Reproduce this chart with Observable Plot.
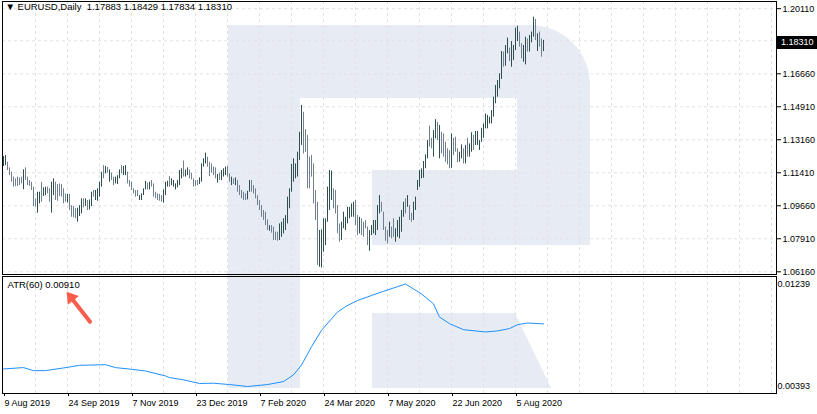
<!DOCTYPE html>
<html><head><meta charset="utf-8">
<script src="https://cdn.jsdelivr.net/npm/d3@7"></script>
<script src="https://cdn.jsdelivr.net/npm/@observablehq/plot@0.6"></script>
<style>
body{margin:0;background:#fff;}
#wrap{position:relative;width:817px;height:414px;overflow:hidden;font-family:"Liberation Sans",Arial,sans-serif;}
#wrap svg{position:absolute;left:0;overflow:visible;}
</style></head><body><div id="wrap"></div>
<script>
// ---------- data (EURUSD daily, bar index 0 = 9 Aug 2019) ----------
const symbol = "EURUSD,Daily";
const lastOpen = 1.17883;
const lastClose = 1.18310;
const highs = [
1.1227,1.1232,1.1197,1.1167,1.1144,1.1118,1.1109,1.1118,1.1114,1.1118,
1.1157,1.1167,1.1118,1.1100,1.1091,1.1065,1.1003,1.1038,1.1038,1.1089,
1.1061,1.1065,1.1065,1.1056,1.1091,1.1109,1.1091,1.1079,1.1082,1.1079,
1.1056,1.1029,1.1026,1.1026,1.0967,1.0962,1.0950,1.0953,1.0967,1.1003,
1.1003,1.1003,1.0994,1.0997,1.1038,1.1047,1.1047,1.1056,1.1091,1.1144,
1.1179,1.1174,1.1170,1.1156,1.1139,1.1118,1.1118,1.1126,1.1156,1.1179,
1.1174,1.1179,1.1144,1.1100,1.1091,1.1056,1.1047,1.1047,1.1020,1.1029,
1.1056,1.1096,1.1086,1.1091,1.1100,1.1082,1.1038,1.1029,1.1026,1.1020,
1.1050,1.1091,1.1096,1.1121,1.1109,1.1100,1.1082,1.1100,1.1153,1.1162,
1.1203,1.1156,1.1167,1.1156,1.1139,1.1109,1.1100,1.1100,1.1114,1.1188,
1.1215,1.1245,1.1224,1.1197,1.1188,1.1171,1.1167,1.1132,1.1139,1.1153,
1.1162,1.1171,1.1174,1.1135,1.1118,1.1109,1.1114,1.1100,1.1073,1.1047,
1.1038,1.1029,1.1043,1.1100,1.1100,1.1073,1.1056,1.1020,1.0994,1.0967,
1.0941,1.0932,1.0891,1.0861,1.0861,1.0853,1.0826,1.0826,1.0870,1.0879,
1.0897,1.0914,1.1012,1.1056,1.1185,1.1215,1.1188,1.1250,1.1356,1.1498,
1.1462,1.1369,1.1339,1.1224,1.1233,1.1188,1.1047,1.0985,1.0835,1.0838,
1.0897,1.0897,1.1065,1.1153,1.1150,1.1056,1.1047,1.0967,1.0870,1.0879,
1.0932,1.0905,1.0958,1.0958,1.0976,1.0985,1.0994,1.0914,1.0905,1.0897,
1.0879,1.0888,1.0853,1.0835,1.0861,1.0888,1.0888,1.0967,1.1020,1.0985,
1.0932,1.0853,1.0835,1.0879,1.0853,1.0897,1.0844,1.0888,1.0905,1.0941,
1.0985,1.1003,1.1020,1.0967,1.0927,1.0985,1.1012,1.1100,1.1153,1.1162,
1.1201,1.1236,1.1312,1.1388,1.1324,1.1365,1.1423,1.1409,1.1392,1.1356,
1.1347,1.1303,1.1268,1.1259,1.1347,1.1324,1.1330,1.1268,1.1250,1.1289,
1.1268,1.1286,1.1324,1.1294,1.1353,1.1339,1.1360,1.1360,1.1312,1.1377,
1.1400,1.1453,1.1445,1.1436,1.1471,1.1542,1.1604,1.1630,1.1666,1.1784,
1.1781,1.1816,1.1855,1.1802,1.1837,1.1816,1.1908,1.1918,1.1887,1.1825,
1.1816,1.1860,1.1851,1.1869,1.1887,1.1966,1.1954,1.1878,1.1887,1.1851,
1.18429];
const lows = [
1.1174,1.1179,1.1153,1.1126,1.1091,1.1065,1.1068,1.1068,1.1073,1.1082,
1.1051,1.1100,1.1073,1.1068,1.1047,1.0962,1.0959,1.0927,1.0976,1.0985,
1.1015,1.1020,1.1029,1.0985,1.0927,1.1020,1.0994,1.0990,1.1015,1.1012,
1.0976,1.0985,1.0980,1.0941,1.0905,1.0902,1.0897,1.0879,1.0909,1.0923,
1.0955,1.0962,1.0941,1.0944,1.0962,1.1012,1.0994,1.0990,1.1012,1.1065,
1.1109,1.1135,1.1139,1.1091,1.1100,1.1073,1.1082,1.1079,1.1109,1.1135,
1.1126,1.1126,1.1082,1.1065,1.1047,1.1029,1.1012,1.1015,1.0994,1.0994,
1.1020,1.1050,1.1050,1.1050,1.1065,1.1012,1.1003,1.0994,1.0990,1.0985,
1.0980,1.1020,1.1065,1.1065,1.1073,1.1065,1.1050,1.1061,1.1073,1.1109,
1.1118,1.1118,1.1126,1.1109,1.1103,1.1065,1.1068,1.1073,1.1079,1.1091,
1.1171,1.1188,1.1171,1.1121,1.1139,1.1126,1.1109,1.1086,1.1100,1.1100,
1.1118,1.1126,1.1118,1.1091,1.1073,1.1079,1.1073,1.1038,1.1020,1.1003,
1.0994,1.0994,1.0997,1.1038,1.1038,1.1029,1.1003,1.0967,1.0941,1.0905,
1.0888,1.0861,1.0835,1.0831,1.0821,1.0782,1.0782,1.0778,1.0782,1.0799,
1.0817,1.0835,1.0870,1.0950,1.1038,1.1091,1.1109,1.1118,1.1206,1.1286,
1.1241,1.1250,1.1056,1.1056,1.1118,1.0976,1.0888,1.0649,1.0640,1.0637,
1.0720,1.0755,1.0879,1.0941,1.0994,1.0950,1.0923,1.0817,1.0773,1.0782,
1.0844,1.0835,1.0870,1.0897,1.0905,1.0905,1.0861,1.0808,1.0817,1.0808,
1.0799,1.0844,1.0755,1.0725,1.0808,1.0817,1.0808,1.0835,1.0923,1.0932,
1.0835,1.0778,1.0764,1.0799,1.0791,1.0799,1.0773,1.0799,1.0791,1.0826,
1.0905,1.0923,1.0958,1.0888,1.0879,1.0888,1.0941,1.1047,1.1064,1.1109,
1.1112,1.1162,1.1215,1.1277,1.1268,1.1224,1.1321,1.1312,1.1215,1.1241,
1.1224,1.1197,1.1183,1.1162,1.1165,1.1232,1.1250,1.1194,1.1197,1.1215,
1.1188,1.1188,1.1224,1.1224,1.1250,1.1259,1.1286,1.1286,1.1259,1.1303,
1.1324,1.1374,1.1374,1.1400,1.1400,1.1436,1.1507,1.1542,1.1586,1.1636,
1.1701,1.1706,1.1772,1.1731,1.1701,1.1736,1.1789,1.1837,1.1807,1.1745,
1.1727,1.1713,1.1781,1.1781,1.1830,1.1860,1.1842,1.1784,1.1807,1.1754,
1.17834];
// 1 = bullish bar (close > open), 0 = bearish bar
const ups = [
1,1,0,0,0,0,0,0,0,0, 1,0,0,0,0,0,0,1,1,0, 1,1,0,0,1,1,0,0,0,0, 0,0,1,0,0,0,0,1,1,1,
0,1,0,1,1,0,1,1,1,1, 0,1,0,1,0,0,1,1,1,0, 1,1,0,0,0,0,0,0,1,1, 1,1,0,1,0,0,0,0,0,0,
1,1,1,0,1,1,1,1,1,1, 0,1,1,0,0,0,0,0,1,1, 1,1,0,0,0,0,0,1,0,1, 1,1,0,0,1,0,1,0,0,0,
0,0,1,1,0,0,0,0,0,0, 0,0,0,1,0,0,0,0,1,1, 1,1,1,1,1,1,1,1,1,1, 0,0,0,0,0,0,0,0,1,1,
1,1,1,1,1,0,0,0,0,1, 1,1,1,1,1,1,0,0,1,0, 0,0,0,1,1,1,1,1,1,0, 0,0,0,1,0,0,1,1,1,1,
1,0,1,0,0,1,1,1,1,1, 1,1,1,0,0,1,1,0,1,0, 0,0,0,0,1,0,0,0,1,1, 0,1,0,1,1,0,1,1,1,1,
1,1,1,1,1,1,1,1,1,1, 0,1,1,0,1,1,1,1,0,0, 1,1,0,1,1,1,0,1,0,0, 1];
// ATR(60): bar index -> value
const atrIdx = [0,10,15,21,32,38,51,56,64,71,81,83,90,98,105,113,122,132,140,145,149,154,159,167,171,177,184,190,197,201,205,209,215,218,223,230,241,247,253,257,262,270];
const atrVal = [0.00538,0.00549,0.00524,0.00524,0.00551,0.00568,0.00573,0.00549,0.00535,0.00521,0.00480,0.00467,0.00448,0.00418,0.00420,0.00409,0.00393,0.00409,0.00434,0.00489,0.00570,0.00721,0.00857,0.01007,0.01053,0.01103,0.01144,0.01179,0.01217,0.01239,0.01198,0.01157,0.01075,0.00966,0.00912,0.00862,0.00843,0.00852,0.00871,0.00903,0.00917,0.00910];
const atrLabel = "ATR(60) 0.00910";
// axis ticks
const priceTicks = [1.20110,1.16660,1.14910,1.13160,1.11410,1.09660,1.07910,1.06160];
const priceGrid = [1.20110,1.18410,1.16660,1.14910,1.13160,1.11410,1.09660,1.07910,1.06160];
const atrTicks = [0.01239,0.00393];
const dateIdx = [0,32,64,96,128,160,192,224,256];
const dateLabels = ["9 Aug 2019","24 Sep 2019","7 Nov 2019","23 Dec 2019","7 Feb 2020","24 Mar 2020","7 May 2020","22 Jun 2020","5 Aug 2020"];
// annotation arrow (points at the ATR value): tail -> head, in bar index / ATR units
const arrowTail = {i: 43.5, v: 0.00924};
const arrowHead = {i: 31.8, v: 0.01171};

// ---------- styles ----------
const DARK = "#2f4f4f", GREY = "#708090", GRID = "#e2e2e2", ATRC = "#1e90ff", LOGO = "#e7ecf4", ARROW = "#f75c4c";
const FONT = "Liberation Sans, Arial, sans-serif";
const wrap = document.getElementById("wrap");

// background watermark logo
const ns = "http://www.w3.org/2000/svg";
const bg = document.createElementNS(ns, "svg");
bg.setAttribute("width", 817); bg.setAttribute("height", 414); bg.style.top = "0px";
bg.innerHTML = `<path fill="${LOGO}" d="M228,25 H530 A60,60 0 0 1 590,85 V245 H372 V170 H517 V98 H300 V388 H228 Z"/>
<path fill="${LOGO}" d="M372,313 H515 L551,388 H372 Z"/>`;
wrap.appendChild(bg);

const bars = highs.map((h, i) => ({i, high: h, low: lows[i], up: ups[i] === 1}));
const atr = atrIdx.map((i, j) => ({i, v: atrVal[j]}));
const xOpt = {domain: [0, 386.5], range: [3, 776], axis: null};
const vGrid = d3.range(16, 387, 16);

const main = Plot.plot({
  width: 817, height: 276,
  marginLeft: 2, marginRight: 41, marginTop: 1, marginBottom: 2,
  style: {background: "transparent", fontFamily: FONT, fontSize: "9px", color: "#000", overflow: "visible"},
  x: xOpt,
  y: {domain: [1.06160, 1.20110], range: [271.3, 8.2], axis: null},
  marks: [
    Plot.gridY(priceGrid, {stroke: GRID, strokeOpacity: 1, strokeDasharray: "3,3"}),
    Plot.gridX(vGrid, {stroke: GRID, strokeOpacity: 1, strokeDasharray: "3,3"}),
    Plot.ruleX(bars.filter(d => !d.up), {x: "i", y1: "low", y2: "high", stroke: GREY, strokeWidth: 1}),
    Plot.ruleX(bars.filter(d => d.up), {x: "i", y1: "low", y2: "high", stroke: DARK, strokeWidth: 1}),
    Plot.frame({stroke: "#000", strokeOpacity: 1}),
    Plot.axisY(priceTicks, {anchor: "right", tickSize: 4, tickPadding: 2, tickFormat: d => d.toFixed(5), label: null, fill: "#000", stroke: "#000"}),
    Plot.text([`\u25BC ${symbol}  ${lastOpen.toFixed(5)} ${highs[highs.length-1].toFixed(5)} ${lows[lows.length-1].toFixed(5)} ${lastClose.toFixed(5)}`],
      {frameAnchor: "top-left", dx: 3, dy: 2, textAnchor: "start", lineAnchor: "top", fill: "#000", fontSize: 9.5}),
    (index, scales, values, dims) => {
      const y = scales.y(lastClose);
      const g = d3.create("svg:g");
      const x0 = dims.width - dims.marginRight + 1;
      g.append("rect").attr("x", x0).attr("y", Math.round(y) - 6).attr("width", 40).attr("height", 13).attr("fill", "#000");
      g.append("text").attr("x", x0 + 4).attr("y", y).attr("dy", "0.35em").attr("fill", "#fff")
        .attr("text-anchor", "start").attr("font-family", FONT).attr("font-size", 9).text(lastClose.toFixed(5));
      return g.node();
    }
  ]
});
main.style.top = "0px";
wrap.appendChild(main);

const atrPlot = Plot.plot({
  width: 817, height: 140,
  marginLeft: 2, marginRight: 41, marginTop: 2, marginBottom: 21,
  style: {background: "transparent", fontFamily: FONT, fontSize: "9px", color: "#000", overflow: "visible"},
  x: xOpt,
  y: {domain: [0.00393, 0.01239], range: [112, 9.5], axis: null},
  marks: [
    Plot.gridX(vGrid, {stroke: GRID, strokeOpacity: 1, strokeDasharray: "3,3"}),
    Plot.line(atr, {x: "i", y: "v", stroke: ATRC, strokeWidth: 1}),
    Plot.frame({stroke: "#000", strokeOpacity: 1}),
    Plot.axisY(atrTicks, {anchor: "right", tickSize: 0, tickPadding: 1, tickFormat: d => d.toFixed(5), label: null, fill: "#000"}),
    Plot.axisX(dateIdx, {anchor: "bottom", tickSize: 3, tickPadding: 3, tickFormat: (d, i) => dateLabels[dateIdx.indexOf(d)], textAnchor: "start", dx: 1, label: null, fill: "#000", stroke: "#000"}),
    Plot.text([atrLabel], {frameAnchor: "top-left", dx: 5, dy: 5, textAnchor: "start", lineAnchor: "top", fill: "#000", fontSize: 9.5}),
    (index, scales) => {
      const x1 = scales.x(arrowTail.i), y1 = scales.y(arrowTail.v);
      const x2 = scales.x(arrowHead.i), y2 = scales.y(arrowHead.v);
      const a = Math.atan2(y2 - y1, x2 - x1), L = 11, Wd = 7;
      const bx = x2 - L * Math.cos(a), by = y2 - L * Math.sin(a);
      const px = -Math.sin(a) * Wd, py = Math.cos(a) * Wd;
      const g = d3.create("svg:g");
      g.append("line").attr("x1", x1).attr("y1", y1).attr("x2", bx).attr("y2", by)
        .attr("stroke", ARROW).attr("stroke-width", 4).attr("stroke-linecap", "round");
      g.append("path").attr("d", `M${x2},${y2}L${bx + px},${by + py}L${bx - px},${by - py}Z`).attr("fill", ARROW);
      return g.node();
    }
  ]
});
atrPlot.style.top = "274px";
wrap.appendChild(atrPlot);
</script></body></html>
